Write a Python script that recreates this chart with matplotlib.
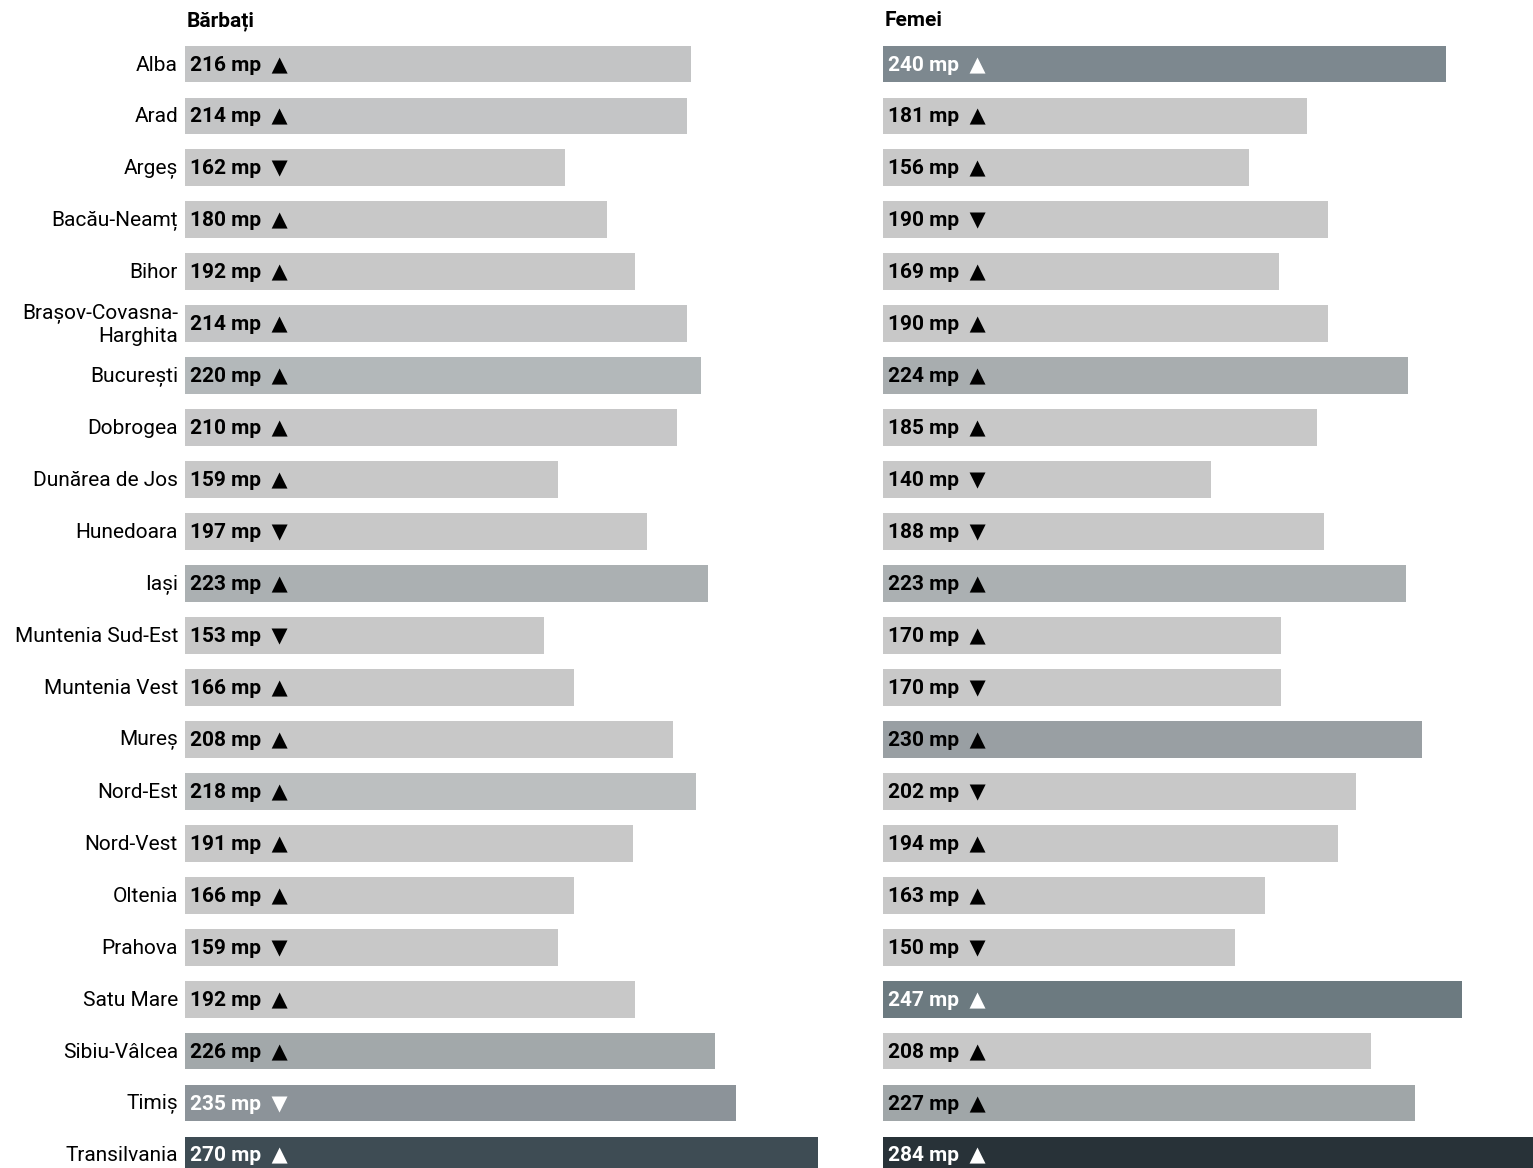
import matplotlib
matplotlib.use("Agg")
import matplotlib.pyplot as plt
from matplotlib.colors import LinearSegmentedColormap, Normalize

regions = ["Alba", "Arad", "Argeș", "Bacău-Neamț", "Bihor", "Brașov-Covasna-\nHarghita",
           "București", "Dobrogea", "Dunărea de Jos", "Hunedoara", "Iași", "Muntenia Sud-Est",
           "Muntenia Vest", "Mureș", "Nord-Est", "Nord-Vest", "Oltenia", "Prahova",
           "Satu Mare", "Sibiu-Vâlcea", "Timiș", "Transilvania"]
barbati = [216, 214, 162, 180, 192, 214, 220, 210, 159, 197, 223, 153, 166, 208, 218, 191,
           166, 159, 192, 226, 235, 270]
barbati_trend = ["up", "up", "down", "up", "up", "up", "up", "up", "up", "down", "up", "down",
                 "up", "up", "up", "up", "up", "down", "up", "up", "down", "up"]
femei = [240, 181, 156, 190, 169, 190, 224, 185, 140, 188, 223, 170, 170, 230, 202, 194,
         163, 150, 247, 208, 227, 284]
femei_trend = ["up", "up", "up", "down", "up", "up", "up", "up", "down", "down", "up", "up",
               "down", "up", "down", "up", "up", "down", "up", "up", "up", "up"]
titles = ["Bărbați", "Femei"]

W, H = 1533, 1168
fig = plt.figure(figsize=(W / 100, H / 100), dpi=100)
FAM = ["Roboto", "DejaVu Sans"]

vmin, vmax = 209, 284
stops = [(209, "#c8c8c8"), (216, "#c3c4c5"), (220, "#b3b8ba"), (226, "#a2a8aa"),
         (235, "#8c9399"), (240, "#7d888f"), (247, "#6c7a80"), (270, "#3e4c54"), (284, "#283238")]
cmap = LinearSegmentedColormap.from_list(
    "g", [((v - vmin) / (vmax - vmin), c) for v, c in stops])
norm = Normalize(vmin=vmin, vmax=vmax, clip=True)

px_per_unit = 2.344
row_h = 51.95
first_center = 64
y_top = -first_center / row_h
y_bot = (H - first_center) / row_h

def make_axes(x0_px, x1_px):
    ax = fig.add_axes([x0_px / W, 0, (x1_px - x0_px) / W, 1])
    ax.set_xlim(0, (x1_px - x0_px) / px_per_unit)
    ax.set_ylim(y_bot, y_top)
    ax.axis("off")
    return ax

FS = 15
panels = [(185, 860, barbati, barbati_trend), (883, 1533, femei, femei_trend)]
for k, (x0, x1, vals, trends) in enumerate(panels):
    ax = make_axes(x0, x1)
    ys = list(range(len(regions)))
    ax.barh(ys, vals, height=0.71, color=[cmap(norm(v)) for v in vals], clip_on=True)
    for y, v, t in zip(ys, vals, trends):
        arrow = "▲" if t == "up" else "▼"
        col = "white" if v > 232 else "black"
        ax.text(5 / px_per_unit, y + 0.02, f"{v} mp  {arrow}", ha="left", va="center",
                fontsize=FS, fontweight="bold", color=col, family=FAM)
    ax.text(2 / px_per_unit, -0.83, titles[k], ha="left", va="center",
            fontsize=FS, fontweight="bold", color="black", family=FAM)
    if k == 0:
        for y, r in zip(ys, regions):
            ax.text(-7 / px_per_unit, y + 0.02, r, ha="right", va="center", fontsize=FS,
                    color="black", family=FAM, linespacing=1.2, clip_on=False)

fig.savefig("out.png", dpi=100)
